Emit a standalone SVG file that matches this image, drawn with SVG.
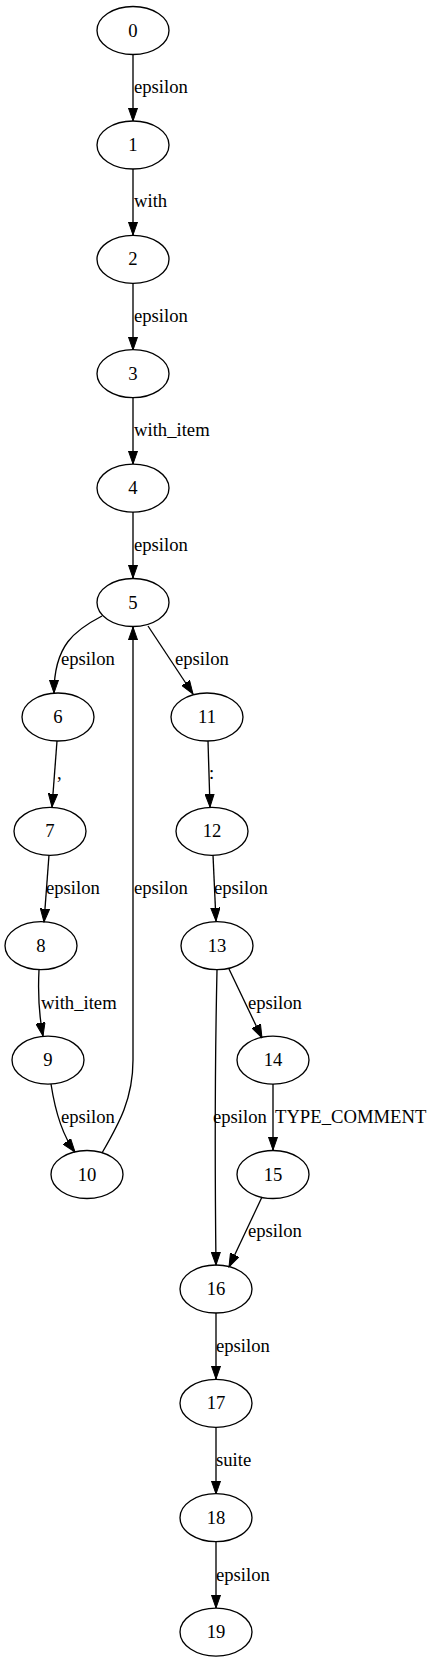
<svg xmlns="http://www.w3.org/2000/svg" width="430" height="1664" viewBox="0 0 430 1664">
<style>
.n ellipse{fill:none;stroke:#000;stroke-width:1.33}
text{font-family:"Liberation Serif","Times New Roman",serif;font-size:18.67px;fill:#000}
.n text{text-anchor:middle}
.e path{fill:none;stroke:#000;stroke-width:1.33;marker-end:url(#ah)}
</style>
<defs>
<marker id="ah" markerUnits="userSpaceOnUse" markerWidth="14" markerHeight="10" viewBox="0 -5 14 10" refX="13.33" refY="0" orient="auto">
<path d="M0,-4.67 L13.33,0 L0,4.67 z" fill="#000" stroke="#000" stroke-width="1"/>
</marker>
</defs>
<rect width="430" height="1664" fill="#fff"/>
<g id="connectors" class="e">
<path d="M133,54.5 L133,121"/>
<path d="M133,169 L133,235"/>
<path d="M133,283 L133,350"/>
<path d="M133,398 L133,464"/>
<path d="M133,512 L133,578"/>
<path d="M102,616 C75,630 54,645 54,693"/>
<path d="M148,626 L193,694"/>
<path d="M102,1153 C118,1125 133,1100 133,1060 L133,627"/>
<path d="M57,741 L52,807"/>
<path d="M49,855 L44,922"/>
<path d="M39,970 C38,990 38,1010 43,1036"/>
<path d="M51,1084 C55,1110 62,1135 75,1152"/>
<path d="M208,741 L210,807"/>
<path d="M213,855 L216,921"/>
<path d="M229,969 L262,1038"/>
<path d="M217,970 C215,1060 215,1180 216,1265"/>
<path d="M273,1084 L273,1150"/>
<path d="M262,1197 L229,1267"/>
<path d="M216,1313 L216,1379"/>
<path d="M216,1427 L216,1494"/>
<path d="M216,1542 L216,1608"/>
<text x="134" y="93">epsilon</text>
<text x="134" y="207">with</text>
<text x="134" y="322">epsilon</text>
<text x="134" y="436">with_item</text>
<text x="134" y="551">epsilon</text>
<text x="61" y="665">epsilon</text>
<text x="175" y="665">epsilon</text>
<text x="57" y="779">,</text>
<text x="209" y="779">:</text>
<text x="46" y="894">epsilon</text>
<text x="134" y="894">epsilon</text>
<text x="214" y="894">epsilon</text>
<text x="41" y="1009">with_item</text>
<text x="248" y="1009">epsilon</text>
<text x="61" y="1123">epsilon</text>
<text x="213" y="1123">epsilon</text>
<text x="275" y="1123">TYPE_COMMENT</text>
<text x="248" y="1237">epsilon</text>
<text x="216" y="1352">epsilon</text>
<text x="216" y="1466">suite</text>
<text x="216" y="1581">epsilon</text>
</g>
<g id="node0" class="n"><ellipse cx="133" cy="30.5" rx="36" ry="24"/><text x="133" y="36.5">0</text></g>
<g id="node1" class="n"><ellipse cx="133" cy="145" rx="36" ry="24"/><text x="133" y="151">1</text></g>
<g id="node2" class="n"><ellipse cx="133" cy="259.3" rx="36" ry="24"/><text x="133" y="265.3">2</text></g>
<g id="node3" class="n"><ellipse cx="133" cy="373.7" rx="36" ry="24"/><text x="133" y="379.7">3</text></g>
<g id="node4" class="n"><ellipse cx="133" cy="488.1" rx="36" ry="24"/><text x="133" y="494.1">4</text></g>
<g id="node5" class="n"><ellipse cx="133" cy="602.5" rx="36" ry="24"/><text x="133" y="608.5">5</text></g>
<g id="node6" class="n"><ellipse cx="58" cy="717" rx="36" ry="24"/><text x="58" y="723">6</text></g>
<g id="node11" class="n"><ellipse cx="207" cy="717" rx="36" ry="24"/><text x="207" y="723">11</text></g>
<g id="node7" class="n"><ellipse cx="50" cy="831.3" rx="36" ry="24"/><text x="50" y="837.3">7</text></g>
<g id="node12" class="n"><ellipse cx="212" cy="831.3" rx="36" ry="24"/><text x="212" y="837.3">12</text></g>
<g id="node8" class="n"><ellipse cx="41" cy="945.7" rx="36" ry="24"/><text x="41" y="951.7">8</text></g>
<g id="node13" class="n"><ellipse cx="217" cy="945.7" rx="36" ry="24"/><text x="217" y="951.7">13</text></g>
<g id="node9" class="n"><ellipse cx="48" cy="1060.1" rx="36" ry="24"/><text x="48" y="1066.1">9</text></g>
<g id="node14" class="n"><ellipse cx="273" cy="1060.1" rx="36" ry="24"/><text x="273" y="1066.1">14</text></g>
<g id="node10" class="n"><ellipse cx="87" cy="1174.5" rx="36" ry="24"/><text x="87" y="1180.5">10</text></g>
<g id="node15" class="n"><ellipse cx="273" cy="1174.5" rx="36" ry="24"/><text x="273" y="1180.5">15</text></g>
<g id="node16" class="n"><ellipse cx="216" cy="1289" rx="36" ry="24"/><text x="216" y="1295">16</text></g>
<g id="node17" class="n"><ellipse cx="216" cy="1403.3" rx="36" ry="24"/><text x="216" y="1409.3">17</text></g>
<g id="node18" class="n"><ellipse cx="216" cy="1517.7" rx="36" ry="24"/><text x="216" y="1523.7">18</text></g>
<g id="node19" class="n"><ellipse cx="216" cy="1632.1" rx="36" ry="24"/><text x="216" y="1638.1">19</text></g>
</svg>
